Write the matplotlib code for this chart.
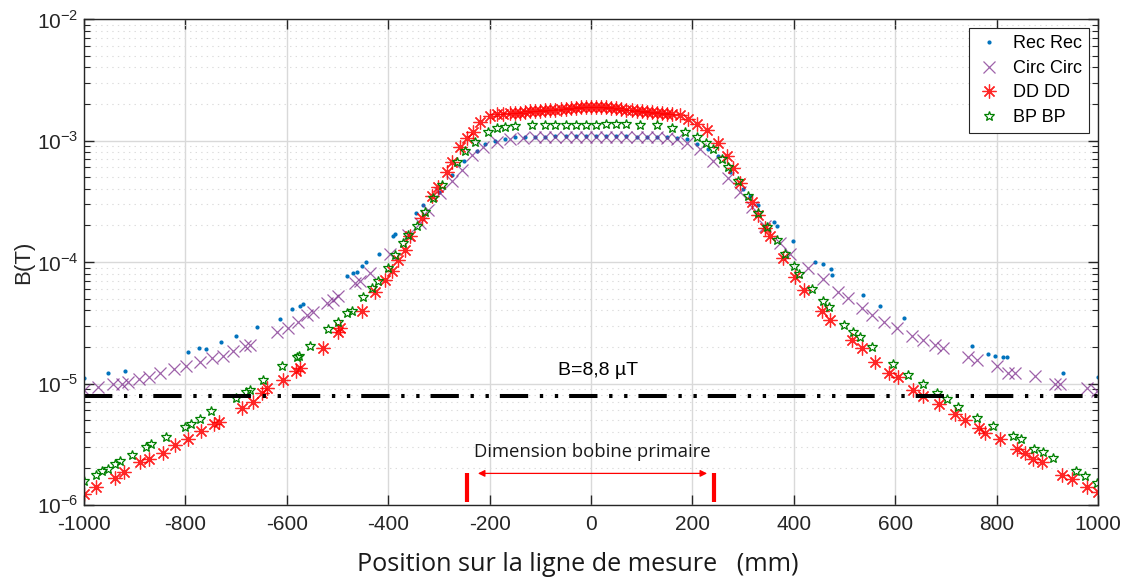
import numpy as np
import matplotlib
matplotlib.use("Agg")
import matplotlib.pyplot as plt

# ---- data (x in mm, log10 of B in T) ----
rec_x = [-1000, -953, -919, -795, -773, -759, -730, -700, -659, -613, -590, -574, -568,
         -481, -470, -462, -452, -444, -418, -390, -386, -345, -331, -300, -274, -250,
         -225, -210, -190, -170, -150, -130, -110, -90, -70, -50, -30, -10, 10, 30, 50,
         70, 90, 110, 130, 150, 170, 190, 210, 230, 250, 274, 300, 313, 329, 361, 367,
         398, 442, 458, 473, 475, 536, 570, 617, 751, 783, 797, 813, 821, 931, 1000]
rec_logB = [-4.955, -4.914, -4.897, -4.74, -4.71, -4.72, -4.658, -4.609, -4.535, -4.469,
            -4.39, -4.36, -4.346, -4.115, -4.09, -4.082, -4.03, -4.00, -3.93, -3.79, -3.77,
            -3.60, -3.53, -3.42, -3.28, -3.17, -3.09, -3.03, -3.00, -2.985, -2.975, -2.97,
            -2.968, -2.968, -2.966, -2.965, -2.965, -2.964, -2.965, -2.965, -2.966, -2.966,
            -2.967, -2.968, -2.97, -2.975, -2.98, -2.99, -3.03, -3.07, -3.13, -3.26, -3.40,
            -3.46, -3.53, -3.67, -3.70, -3.83, -4.00, -4.02, -4.06, -4.11, -4.27, -4.36,
            -4.46, -4.69, -4.76, -4.77, -4.78, -4.78, -4.91, -4.95]

circ_x = [-1000, -972, -943, -925, -913, -892, -872, -850, -822, -799, -771, -748, -726,
          -706, -682, -673, -619, -598, -578, -560, -548, -521, -509, -499, -466, -456,
          -436, -396, -361, -337, -321, -298, -274, -254, -235, -213, -185, -160, -134,
          -110, -90, -70, -50, -30, -10, 10, 30, 50, 70, 90, 110, 130, 150, 170, 189, 215,
          241, 270, 294, 317, 343, 373, 393, 428, 458, 487, 507, 534, 554, 577, 603, 633,
          655, 679, 695, 744, 761, 801, 822, 836, 876, 915, 925, 978, 998]
circ_logB = [-5.05, -5.03, -5.00, -5.00, -4.99, -4.96, -4.95, -4.91, -4.88, -4.86, -4.82,
             -4.79, -4.77, -4.73, -4.69, -4.68, -4.58, -4.54, -4.49, -4.44, -4.41, -4.34,
             -4.31, -4.28, -4.17, -4.16, -4.09, -3.93, -3.78, -3.68, -3.57, -3.43, -3.33,
             -3.24, -3.12, -3.05, -3.01, -2.99, -2.98, -2.975, -2.972, -2.97, -2.97, -2.968,
             -2.968, -2.968, -2.968, -2.97, -2.97, -2.972, -2.973, -2.975, -2.98, -2.99,
             -3.02, -3.07, -3.17, -3.31, -3.42, -3.55, -3.70, -3.84, -3.93, -4.05, -4.14,
             -4.25, -4.30, -4.38, -4.44, -4.49, -4.54, -4.61, -4.64, -4.68, -4.71, -4.78,
             -4.81, -4.86, -4.91, -4.91, -4.94, -5.00, -5.00, -5.04, -5.06]

dd_x = [-1000, -976, -939, -921, -890, -872, -844, -820, -795, -769, -744, -734, -688,
        -667, -649, -639, -608, -582, -574, -529, -499, -495, -452, -426, -406, -393, -381,
        -367, -357, -333, -314, -302, -284, -274, -258, -245, -233, -219, -200, -185, -173,
        -160, -150, -140, -130, -120, -110, -100, -90, -80, -70, -60, -50, -40, -30, -20,
        -10, 0, 10, 20, 30, 40, 50, 60, 70, 80, 90, 100, 110, 120, 130, 140, 150, 160, 176,
        192, 209, 229, 251, 268, 281, 294, 317, 330, 343, 353, 379, 402, 420, 456, 471,
        514, 534, 560, 588, 606, 635, 655, 687, 718, 738, 766, 777, 807, 840, 856, 872,
        889, 929, 949, 978, 1000]
dd_logB = [-5.91, -5.85, -5.78, -5.73, -5.65, -5.62, -5.57, -5.51, -5.46, -5.39, -5.33,
           -5.32, -5.20, -5.15, -5.08, -5.04, -4.97, -4.90, -4.87, -4.71, -4.58, -4.54,
           -4.40, -4.25, -4.15, -4.07, -3.98, -3.90, -3.79, -3.64, -3.46, -3.38, -3.26,
           -3.18, -3.05, -2.98, -2.93, -2.85, -2.80, -2.785, -2.78, -2.775, -2.772, -2.77,
           -2.765, -2.76, -2.758, -2.755, -2.752, -2.75, -2.745, -2.74, -2.738, -2.735,
           -2.73, -2.728, -2.726, -2.724, -2.725, -2.726, -2.728, -2.73, -2.735, -2.74,
           -2.745, -2.75, -2.755, -2.76, -2.762, -2.765, -2.77, -2.775, -2.78, -2.785,
           -2.79, -2.82, -2.86, -2.91, -3.02, -3.13, -3.23, -3.35, -3.51, -3.61, -3.72,
           -3.79, -3.97, -4.12, -4.23, -4.40, -4.48, -4.64, -4.71, -4.82, -4.91, -4.95,
           -5.05, -5.10, -5.17, -5.25, -5.30, -5.37, -5.41, -5.46, -5.54, -5.57, -5.62,
           -5.65, -5.75, -5.79, -5.85, -5.89]

bp_x = [-1000, -976, -964, -953, -939, -929, -905, -878, -868, -838, -801, -789, -771,
        -750, -700, -680, -673, -647, -609, -580, -576, -554, -519, -499, -481, -471, -450,
        -432, -420, -400, -387, -371, -361, -343, -327, -312, -294, -264, -249, -229, -203,
        -185, -170, -150, -116, -90, -70, -50, -30, -10, 10, 30, 50, 70, 97, 130, 160,
        185, 210, 227, 241, 258, 270, 290, 310, 329, 347, 367, 383, 400, 410, 436, 458,
        469, 499, 517, 531, 554, 596, 625, 654, 682, 702, 724, 761, 793, 833, 848, 874,
        892, 911, 957, 974, 998]
bp_logB = [-5.80, -5.75, -5.72, -5.70, -5.66, -5.64, -5.59, -5.52, -5.50, -5.44, -5.36,
           -5.33, -5.29, -5.23, -5.12, -5.07, -5.05, -4.97, -4.86, -4.78, -4.77, -4.69,
           -4.55, -4.49, -4.42, -4.40, -4.29, -4.21, -4.16, -4.05, -3.94, -3.84, -3.78,
           -3.70, -3.59, -3.47, -3.37, -3.18, -3.09, -3.01, -2.93, -2.90, -2.89, -2.88,
           -2.875, -2.875, -2.87, -2.875, -2.87, -2.872, -2.87, -2.868, -2.865, -2.862,
           -2.87, -2.875, -2.90, -2.93, -2.97, -3.02, -3.07, -3.15, -3.22, -3.33, -3.46,
           -3.60, -3.71, -3.82, -3.93, -4.03, -4.10, -4.22, -4.32, -4.37, -4.52, -4.58,
           -4.62, -4.70, -4.84, -4.93, -5.00, -5.08, -5.13, -5.19, -5.28, -5.35, -5.43,
           -5.46, -5.54, -5.56, -5.61, -5.72, -5.76, -5.82]

b_limit = 7.9e-6            # level of the dash-dot line
coil_edges = [-245, 243]    # red bars
coil_arrow = [-223, 229]
bar_span = [1.05e-6, 1.85e-6]
xticks = [-1000, -800, -600, -400, -200, 0, 200, 400, 600, 800, 1000]
yticks = [1e-6, 1e-5, 1e-4, 1e-3, 1e-2]

plt.rcParams['font.family'] = ['Liberation Sans', 'DejaVu Sans']
plt.rcParams['mathtext.fontset'] = 'custom'
plt.rcParams['mathtext.rm'] = 'Liberation Sans'
plt.rcParams['axes.unicode_minus'] = False
plt.rcParams['lines.scale_dashes'] = False

fig = plt.figure(figsize=(11.26, 5.78), dpi=100)
ax = fig.add_axes([0.0746, 0.1263, 0.9005, 0.8408])
axc = '#262626'

ax.plot(rec_x, 10 ** np.array(rec_logB), ls='none', marker='.', ms=4,
        color='#0072BD', label='Rec Rec')
ax.plot(circ_x, 10 ** np.array(circ_logB), ls='none', marker='x', ms=8, mew=0.9,
        color='#7E2F8E', alpha=0.75, label='Circ Circ')
ax.plot(dd_x, 10 ** np.array(dd_logB), ls='none', marker=(8, 2, 0), ms=10, mew=0.9,
        color='#FF0000', alpha=0.85, label='DD DD')
ax.plot(bp_x, 10 ** np.array(bp_logB), ls='none', marker='*', ms=7, mew=0.9,
        mfc='none', mec='#008000', label='BP BP')

# threshold line
ln, = ax.plot([-1000, 1000], [b_limit, b_limit], color='black', lw=2.9,
              solid_capstyle='butt', dash_capstyle='butt')
ln.set_dashes([20.4, 8.4, 2.4, 8.4, 2.4, 7.9])
ax.text(14, 1.27e-5, 'B=8,8 µT', ha='center', va='center', fontsize=14)

# primary coil dimension
for xe in coil_edges:
    ax.plot([xe, xe], bar_span, color='#FF0000', lw=3, solid_capstyle='butt')
ax.annotate('', xy=(coil_arrow[1], 1.82e-6), xytext=(coil_arrow[0], 1.82e-6),
            arrowprops=dict(arrowstyle='<|-|>', color='#FF0000', lw=0.9,
                            mutation_scale=10, shrinkA=0, shrinkB=0))
ax.text(3, 2.75e-6, 'Dimension bobine primaire', ha='center', va='center',
        fontsize=13.3, family=['Open Sans', 'DejaVu Sans'], color='#1a1a1a')

ax.set_yscale('log')
ax.set_xlim(-1000, 1000)
ax.set_ylim(1e-6, 1e-2)
ax.set_xticks(xticks)
ax.set_xticklabels([str(t) for t in xticks])
ax.set_yticks(yticks)
ax.set_yticklabels([r'$10^{%d}$' % int(np.log10(t)) for t in yticks])

ax.grid(True, which='major', color='#d9d9d9', lw=1.0)
ax.grid(True, which='minor', axis='y', color='#dcdcdc', lw=0.8, ls=(0, (1, 3)))
ax.set_axisbelow(True)
ax.tick_params(which='both', direction='in', top=True, right=True, colors=axc,
               labelsize=15)
ax.tick_params(which='major', length=7, width=1)
ax.tick_params(which='minor', length=4, width=0.8)
ax.tick_params(axis='x', pad=7)
ax.tick_params(axis='y', pad=4)
for s in ax.spines.values():
    s.set_color(axc)
    s.set_linewidth(1)

ax.set_ylabel('B(T)', fontsize=16, color=axc, labelpad=2)
ax.set_xlabel('Position sur la ligne de mesure   (mm)', fontsize=18.2,
              family=['Open Sans', 'DejaVu Sans'], color='#1a1a1a')
ax.xaxis.set_label_coords(0.487, -0.097)

leg = ax.legend(loc='upper right', fontsize=13, frameon=True, fancybox=False,
                edgecolor=axc, framealpha=1, borderaxespad=0.5, labelspacing=0.42,
                handletextpad=0.6, handlelength=1.4, borderpad=0.4)
leg.get_frame().set_linewidth(0.8)

fig.savefig('out.png', dpi=100)
